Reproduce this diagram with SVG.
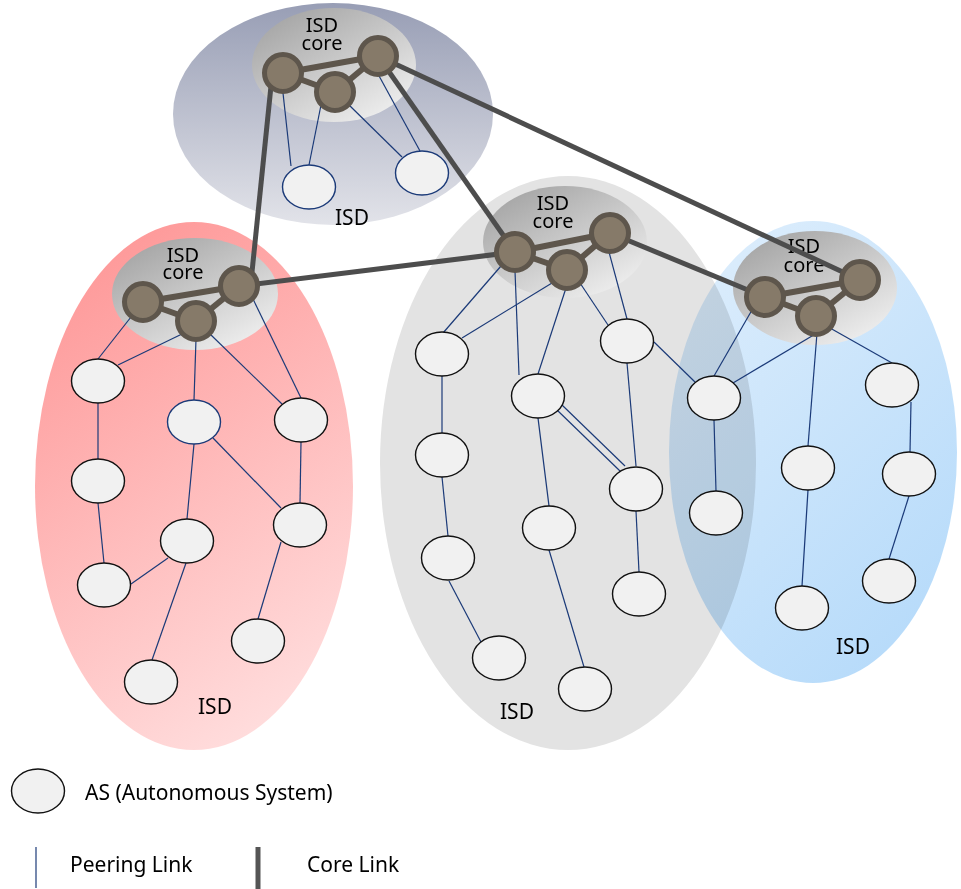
<svg xmlns="http://www.w3.org/2000/svg" width="961" height="889" viewBox="0 0 961 889">
<defs>
<linearGradient id="gTop" x1="0" y1="0" x2="0" y2="1">
<stop offset="0" stop-color="#989eb5"/><stop offset="1" stop-color="#e2e3e9"/>
</linearGradient>
<linearGradient id="gRed" x1="0.2" y1="0" x2="0.6" y2="1">
<stop offset="0" stop-color="#fe9696"/><stop offset="1" stop-color="#ffdcdc"/>
</linearGradient>
<linearGradient id="gBlue" x1="0.2" y1="0" x2="0.8" y2="1">
<stop offset="0" stop-color="#dcedfc"/><stop offset="1" stop-color="#b5dafa"/>
</linearGradient>
<linearGradient id="gCore" x1="0.1" y1="0" x2="0.9" y2="1">
<stop offset="0" stop-color="#a0a0a0"/><stop offset="1" stop-color="#f4f4f4"/>
</linearGradient>
<style>
.t{font-family:"Noto Sans","Open Sans","DejaVu Sans",sans-serif;font-size:21px;fill:#000}
.tc{font-family:"Noto Sans","Open Sans","DejaVu Sans",sans-serif;font-size:20px;fill:#000;text-anchor:middle}
.c{text-anchor:middle}
.as{fill:#f1f1f1;stroke:#111;stroke-width:1.4}
.asb{fill:#f1f1f1;stroke:#1b3a78;stroke-width:1.4}
.cn{fill:#867a69;stroke:#5e564c;stroke-width:5}
.pl{stroke:#1b3a78;stroke-width:1.2;fill:none}
.il{stroke:#5e564c;stroke-width:6;fill:none}
.cl{stroke:#4d4d4d;stroke-width:5;fill:none}
.core{fill:url(#gCore)}
</style>
</defs>

<g id="isd-top">
<ellipse cx="333" cy="114" rx="160" ry="111" fill="url(#gTop)"/>
</g>
<g id="isd-red">
<ellipse cx="194" cy="486" rx="159" ry="264" fill="url(#gRed)"/>
</g>
<g id="isd-gray">
<ellipse cx="568" cy="463" rx="188" ry="287" fill="#e3e3e3"/>
</g>
<g id="isd-blue">
<ellipse cx="813" cy="452" rx="144" ry="231" fill="url(#gBlue)" style="mix-blend-mode:multiply"/>
</g>

<g id="core-areas">
<ellipse class="core" cx="334" cy="65" rx="82" ry="57"/>
<ellipse class="core" cx="195" cy="294" rx="83" ry="56"/>
<ellipse class="core" cx="565" cy="242" rx="82" ry="56"/>
<ellipse class="core" cx="815" cy="288" rx="82" ry="57"/>
</g>

<g id="labels">
<text class="tc" x="322" y="32">ISD<tspan x="322" y="50">core</tspan></text>
<text class="tc" x="183" y="262">ISD<tspan x="183" y="279">core</tspan></text>
<text class="tc" x="553" y="210">ISD<tspan x="553" y="228">core</tspan></text>
<text class="tc" x="804" y="253">ISD<tspan x="804" y="272">core</tspan></text>
<text class="t c" x="352" y="225">ISD</text>
<text class="t c" x="215" y="714">ISD</text>
<text class="t c" x="517" y="719">ISD</text>
<text class="t c" x="853" y="654">ISD</text>
</g>

<g id="connectors">
<line class="pl" x1="283" y1="93" x2="291" y2="166"/>
<line class="pl" x1="321" y1="105" x2="309" y2="165"/>
<line class="pl" x1="348" y1="104" x2="402" y2="157"/>
<line class="pl" x1="378" y1="74" x2="420" y2="151"/>
<line class="pl" x1="131" y1="317" x2="98" y2="359"/>
<line class="pl" x1="182" y1="334" x2="118" y2="365"/>
<line class="pl" x1="196" y1="339" x2="194" y2="400"/>
<line class="pl" x1="210" y1="334" x2="282" y2="404"/>
<line class="pl" x1="253" y1="299" x2="301" y2="398"/>
<line class="pl" x1="98" y1="403" x2="98" y2="459"/>
<line class="pl" x1="213" y1="438" x2="281" y2="508"/>
<line class="pl" x1="194" y1="444" x2="187" y2="519"/>
<line class="pl" x1="301" y1="442" x2="300" y2="503"/>
<line class="pl" x1="98" y1="503" x2="104" y2="563"/>
<line class="pl" x1="131" y1="584" x2="168" y2="558"/>
<line class="pl" x1="186" y1="563" x2="152" y2="660"/>
<line class="pl" x1="281" y1="542" x2="258" y2="619"/>
<line class="pl" x1="501" y1="266" x2="443" y2="333"/>
<line class="pl" x1="552" y1="283" x2="462" y2="338"/>
<line class="pl" x1="515" y1="271" x2="519" y2="375"/>
<line class="pl" x1="566" y1="288" x2="538" y2="374"/>
<line class="pl" x1="580" y1="283" x2="608" y2="325"/>
<line class="pl" x1="609" y1="252" x2="627" y2="319"/>
<line class="pl" x1="442" y1="376" x2="442" y2="433"/>
<line class="pl" x1="538" y1="418" x2="549" y2="506"/>
<line class="pl" x1="562" y1="405" x2="625" y2="466"/>
<line class="pl" x1="557" y1="410" x2="620" y2="471"/>
<line class="pl" x1="627" y1="363" x2="636" y2="466"/>
<line class="pl" x1="654" y1="342" x2="695" y2="382"/>
<line class="pl" x1="442" y1="477" x2="448" y2="536"/>
<line class="pl" x1="449" y1="581" x2="481" y2="642"/>
<line class="pl" x1="549" y1="550" x2="584" y2="667"/>
<line class="pl" x1="636" y1="511" x2="639" y2="572"/>
<line class="pl" x1="752" y1="310" x2="714" y2="376"/>
<line class="pl" x1="817" y1="333" x2="733" y2="383"/>
<line class="pl" x1="817" y1="333" x2="808" y2="446"/>
<line class="pl" x1="830" y1="328" x2="892" y2="363"/>
<line class="pl" x1="714" y1="420" x2="716" y2="491"/>
<line class="pl" x1="808" y1="490" x2="802" y2="586"/>
<line class="pl" x1="911" y1="402" x2="910" y2="452"/>
<line class="pl" x1="909" y1="496" x2="889" y2="559"/>
<line class="il" x1="283" y1="73" x2="378" y2="56"/>
<line class="il" x1="283" y1="73" x2="335" y2="92"/>
<line class="il" x1="335" y1="92" x2="378" y2="56"/>
<line class="il" x1="143" y1="302" x2="239" y2="286"/>
<line class="il" x1="143" y1="302" x2="196" y2="321"/>
<line class="il" x1="196" y1="321" x2="239" y2="286"/>
<line class="il" x1="515" y1="252" x2="610" y2="233"/>
<line class="il" x1="515" y1="252" x2="567" y2="270"/>
<line class="il" x1="567" y1="270" x2="610" y2="233"/>
<line class="il" x1="765" y1="297" x2="860" y2="280"/>
<line class="il" x1="765" y1="297" x2="816" y2="316"/>
<line class="il" x1="816" y1="316" x2="860" y2="280"/>
<line class="cl" x1="271" y1="86" x2="252" y2="272"/>
<line class="cl" x1="378" y1="56" x2="515" y2="252"/>
<line class="cl" x1="378" y1="56" x2="860" y2="280"/>
<line class="cl" x1="239" y1="286" x2="515" y2="252"/>
<line class="cl" x1="610" y1="233" x2="765" y2="297"/>
</g>

<g id="core-top">
<circle class="cn" cx="283" cy="73" r="18.5"/>
<circle class="cn" cx="335" cy="92" r="18.5"/>
<circle class="cn" cx="378" cy="56" r="18.5"/>
</g>
<g id="core-red">
<circle class="cn" cx="143" cy="302" r="18.5"/>
<circle class="cn" cx="196" cy="321" r="18.5"/>
<circle class="cn" cx="239" cy="286" r="18.5"/>
</g>
<g id="core-gray">
<circle class="cn" cx="515" cy="252" r="18.5"/>
<circle class="cn" cx="567" cy="270" r="18.5"/>
<circle class="cn" cx="610" cy="233" r="18.5"/>
</g>
<g id="core-blue">
<circle class="cn" cx="765" cy="297" r="18.5"/>
<circle class="cn" cx="816" cy="316" r="18.5"/>
<circle class="cn" cx="860" cy="280" r="18.5"/>
</g>

<g id="as-top">
<ellipse class="asb" cx="309" cy="187" rx="26.5" ry="22"/>
<ellipse class="asb" cx="422" cy="173" rx="26.5" ry="22"/>
</g>
<g id="as-red">
<ellipse class="as" cx="98" cy="381" rx="26.5" ry="22"/>
<ellipse class="asb" cx="194" cy="422" rx="26.5" ry="22"/>
<ellipse class="as" cx="301" cy="420" rx="26.5" ry="22"/>
<ellipse class="as" cx="98" cy="481" rx="26.5" ry="22"/>
<ellipse class="as" cx="300" cy="525" rx="26.5" ry="22"/>
<ellipse class="as" cx="187" cy="541" rx="26.5" ry="22"/>
<ellipse class="as" cx="104" cy="585" rx="26.5" ry="22"/>
<ellipse class="as" cx="258" cy="641" rx="26.5" ry="22"/>
<ellipse class="as" cx="151" cy="682" rx="26.5" ry="22"/>
</g>
<g id="as-gray">
<ellipse class="as" cx="442" cy="354" rx="26.5" ry="22"/>
<ellipse class="as" cx="538" cy="396" rx="26.5" ry="22"/>
<ellipse class="as" cx="627" cy="341" rx="26.5" ry="22"/>
<ellipse class="as" cx="442" cy="455" rx="26.5" ry="22"/>
<ellipse class="as" cx="636" cy="489" rx="26.5" ry="22"/>
<ellipse class="as" cx="448" cy="558" rx="26.5" ry="22"/>
<ellipse class="as" cx="549" cy="528" rx="26.5" ry="22"/>
<ellipse class="as" cx="639" cy="594" rx="26.5" ry="22"/>
<ellipse class="as" cx="499" cy="658" rx="26.5" ry="22"/>
<ellipse class="as" cx="585" cy="689" rx="26.5" ry="22"/>
</g>
<g id="as-blue">
<ellipse class="as" cx="714" cy="398" rx="26.5" ry="22"/>
<ellipse class="as" cx="892" cy="385" rx="26.5" ry="22"/>
<ellipse class="as" cx="808" cy="468" rx="26.5" ry="22"/>
<ellipse class="as" cx="909" cy="474" rx="26.5" ry="22"/>
<ellipse class="as" cx="716" cy="513" rx="26.5" ry="22"/>
<ellipse class="as" cx="889" cy="581" rx="26.5" ry="22"/>
<ellipse class="as" cx="802" cy="608" rx="26.5" ry="22"/>
</g>

<g id="legend">
<ellipse class="as" cx="38" cy="791" rx="26.5" ry="22"/>
<text class="t" x="85" y="800">AS (Autonomous System)</text>
<line class="pl" x1="36" y1="847" x2="36" y2="888"/>
<text class="t" x="70" y="872">Peering Link</text>
<line x1="258" y1="847" x2="258" y2="889" stroke="#555" stroke-width="5"/>
<text class="t" x="307" y="872">Core Link</text>
</g>
</svg>
